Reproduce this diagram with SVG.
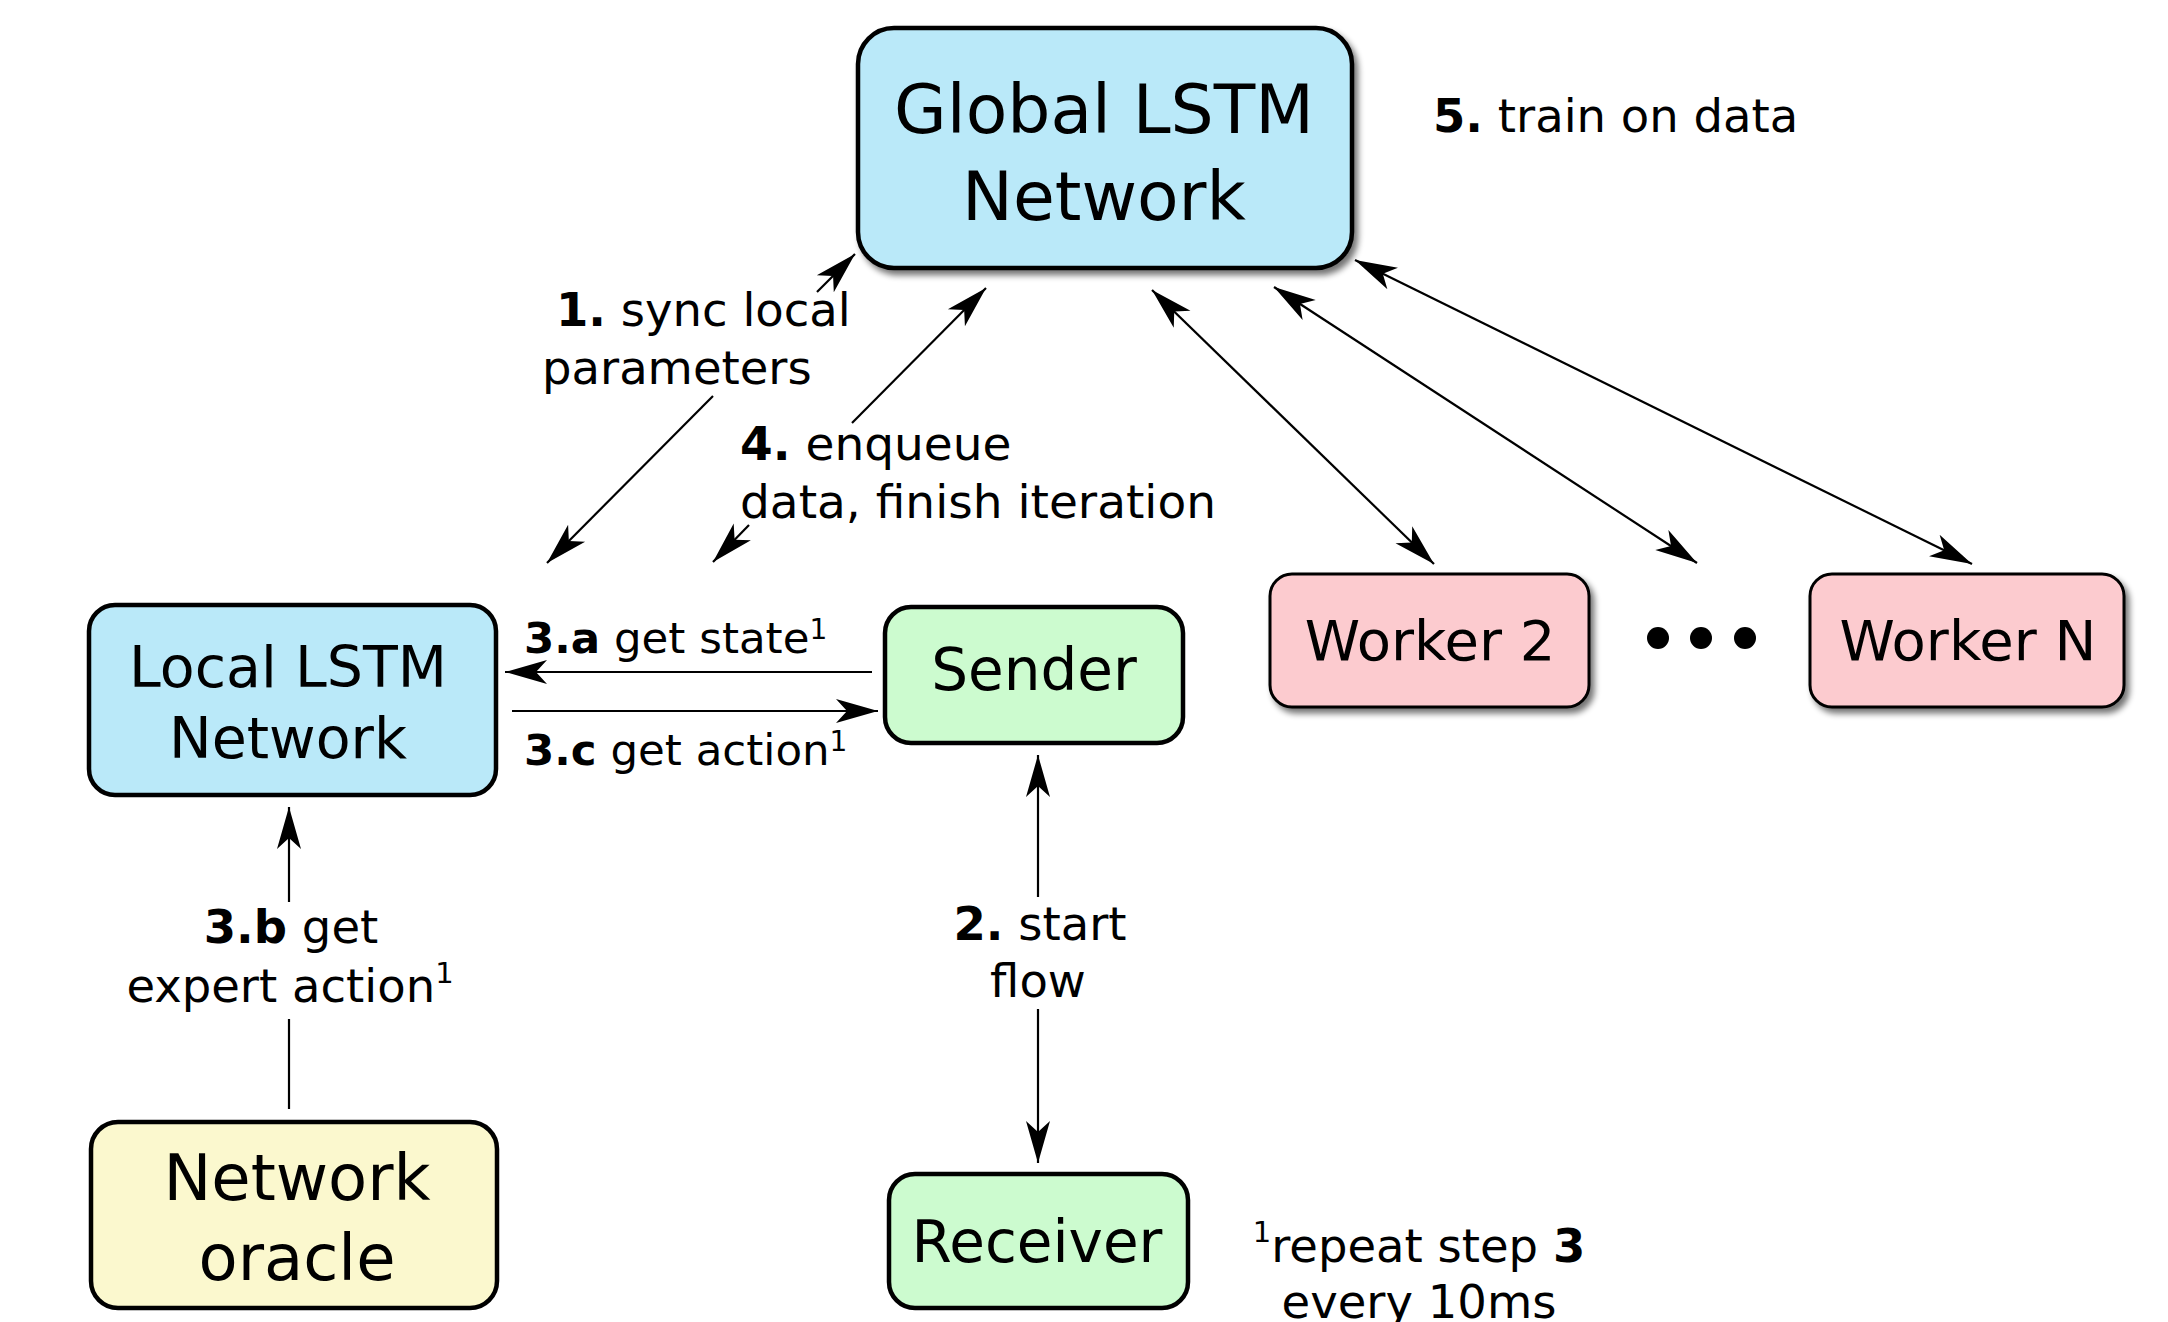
<svg xmlns="http://www.w3.org/2000/svg" width="2168" height="1322" viewBox="0 0 2168 1322">
  <style>
    text { font-family: "DejaVu Sans", "Liberation Sans", sans-serif; fill: #000; }
    .node { stroke: #000; stroke-width: 4.5; }
    .blue { fill: #bae9f9; }
    .green { fill: #ccfbcf; }
    .yellow { fill: #fbf8ce; }
    .pink { fill: #fccbcf; stroke-width: 3; }
    .edge { fill: none; stroke: #000; stroke-width: 2.2; }
    .arr { marker-end: url(#head); }
    .both { marker-start: url(#head); marker-end: url(#head); }
    .lbl { font-size: 46.5px; }
    .lbl-s { font-size: 43.5px; }
    .b { font-weight: bold; }
  </style>
  <defs>
    <marker id="head" viewBox="-44 -14 46 28" refX="0" refY="0" markerWidth="46" markerHeight="28" markerUnits="userSpaceOnUse" orient="auto-start-reverse">
      <path d="M0,0 L-42,-12 L-31,0 L-42,12 Z" fill="#000"/>
    </marker>
    <filter id="shadow" x="-10%" y="-10%" width="125%" height="130%">
      <feGaussianBlur in="SourceAlpha" stdDeviation="3"/>
      <feOffset dx="4" dy="5" result="off"/>
      <feComponentTransfer><feFuncA type="linear" slope="0.55"/></feComponentTransfer>
      <feMerge><feMergeNode/><feMergeNode in="SourceGraphic"/></feMerge>
    </filter>
  </defs>
  <rect width="2168" height="1322" fill="#fff"/>

  <!-- connectors -->
  <g id="connectors">
    <!-- 1. sync local parameters -->
    <line class="edge arr" x1="713" y1="396" x2="547" y2="563"/>
    <line class="edge arr" x1="817" y1="292" x2="855" y2="254"/>
    <!-- 4. enqueue data -->
    <line class="edge arr" x1="852" y1="423" x2="986" y2="288"/>
    <line class="edge arr" x1="749" y1="525" x2="713" y2="562"/>
    <!-- 3.a / 3.c -->
    <line class="edge arr" x1="872" y1="672" x2="505" y2="672"/>
    <line class="edge arr" x1="512" y1="711" x2="878" y2="711"/>
    <!-- 3.b -->
    <line class="edge" x1="289" y1="1109" x2="289" y2="1019"/>
    <line class="edge arr" x1="289" y1="902" x2="289" y2="807"/>
    <!-- 2. start flow -->
    <line class="edge arr" x1="1038" y1="897" x2="1038" y2="755"/>
    <line class="edge arr" x1="1038" y1="1009" x2="1038" y2="1163"/>
    <!-- global network to workers -->
    <line class="edge both" x1="1152" y1="290" x2="1434" y2="564"/>
    <line class="edge both" x1="1274" y1="287" x2="1697" y2="563"/>
    <line class="edge both" x1="1355" y1="260" x2="1972" y2="564"/>
  </g>

  <!-- edge labels -->
  <g id="labels">
    <text class="lbl" x="556" y="326" font-size="47"><tspan class="b">1.</tspan> sync local</text>
    <text class="lbl" x="542" y="384" font-size="47">parameters</text>
    <text class="lbl" x="740" y="460" style="font-size:47px"><tspan class="b">4.</tspan> enqueue</text>
    <text class="lbl" x="740" y="518" style="font-size:47px">data, finish iteration</text>
    <text class="lbl" x="1433" y="132"><tspan class="b">5.</tspan> train on data</text>
    <text class="lbl-s" x="524" y="653"><tspan class="b">3.a</tspan> get state<tspan font-size="28" dy="-14">1</tspan></text>
    <text class="lbl-s" x="524" y="765"><tspan class="b">3.c</tspan> get action<tspan font-size="28" dy="-14">1</tspan></text>
    <text class="lbl" x="291" y="943" text-anchor="middle"><tspan class="b">3.b</tspan> get</text>
    <text class="lbl" x="290" y="1002" text-anchor="middle">expert action<tspan font-size="29" dy="-19">1</tspan></text>
    <text class="lbl" x="1040" y="940" text-anchor="middle"><tspan class="b">2.</tspan> start</text>
    <text class="lbl" x="1038" y="997" text-anchor="middle">flow</text>
    <text class="lbl" x="1419" y="1262" text-anchor="middle"><tspan font-size="29" dy="-20">1</tspan><tspan dy="20">repeat step </tspan><tspan class="b">3</tspan></text>
    <text class="lbl" x="1419" y="1318" text-anchor="middle">every 10ms</text>
  </g>

  <!-- nodes -->
  <g id="global-lstm" filter="url(#shadow)">
    <rect class="node blue" x="858" y="28" width="494" height="240" rx="36" ry="36" stroke-width="4"/>
    <text x="1104" y="133" font-size="68" text-anchor="middle">Global LSTM</text>
    <text x="1104" y="220" font-size="68" text-anchor="middle">Network</text>
  </g>

  <g id="local-lstm">
    <rect class="node blue" x="89" y="605" width="407" height="190" rx="26" ry="26"/>
    <text x="288" y="687" font-size="57" text-anchor="middle">Local LSTM</text>
    <text x="288" y="758" font-size="57" text-anchor="middle">Network</text>
  </g>

  <g id="sender">
    <rect class="node green" x="885" y="607" width="298" height="136" rx="26" ry="26"/>
    <text x="1034" y="690" font-size="58" text-anchor="middle">Sender</text>
  </g>

  <g id="receiver">
    <rect class="node green" x="889" y="1174" width="299" height="134" rx="26" ry="26"/>
    <text x="1037" y="1262" font-size="58" text-anchor="middle">Receiver</text>
  </g>

  <g id="network-oracle">
    <rect class="node yellow" x="91" y="1122" width="406" height="186" rx="27" ry="27"/>
    <text x="297" y="1200" font-size="64" text-anchor="middle">Network</text>
    <text x="297" y="1280" font-size="64" text-anchor="middle">oracle</text>
  </g>

  <g id="worker-2" filter="url(#shadow)">
    <rect class="node pink" x="1270" y="574" width="319" height="133" rx="22" ry="22"/>
    <text x="1430" y="660" font-size="56" text-anchor="middle">Worker 2</text>
  </g>

  <g id="worker-ellipsis">
    <circle cx="1658" cy="638" r="11" fill="#000"/>
    <circle cx="1701" cy="638" r="11" fill="#000"/>
    <circle cx="1745" cy="638" r="11" fill="#000"/>
  </g>

  <g id="worker-n" filter="url(#shadow)">
    <rect class="node pink" x="1810" y="574" width="314" height="133" rx="22" ry="22"/>
    <text x="1968" y="660" font-size="56" text-anchor="middle">Worker N</text>
  </g>
</svg>
